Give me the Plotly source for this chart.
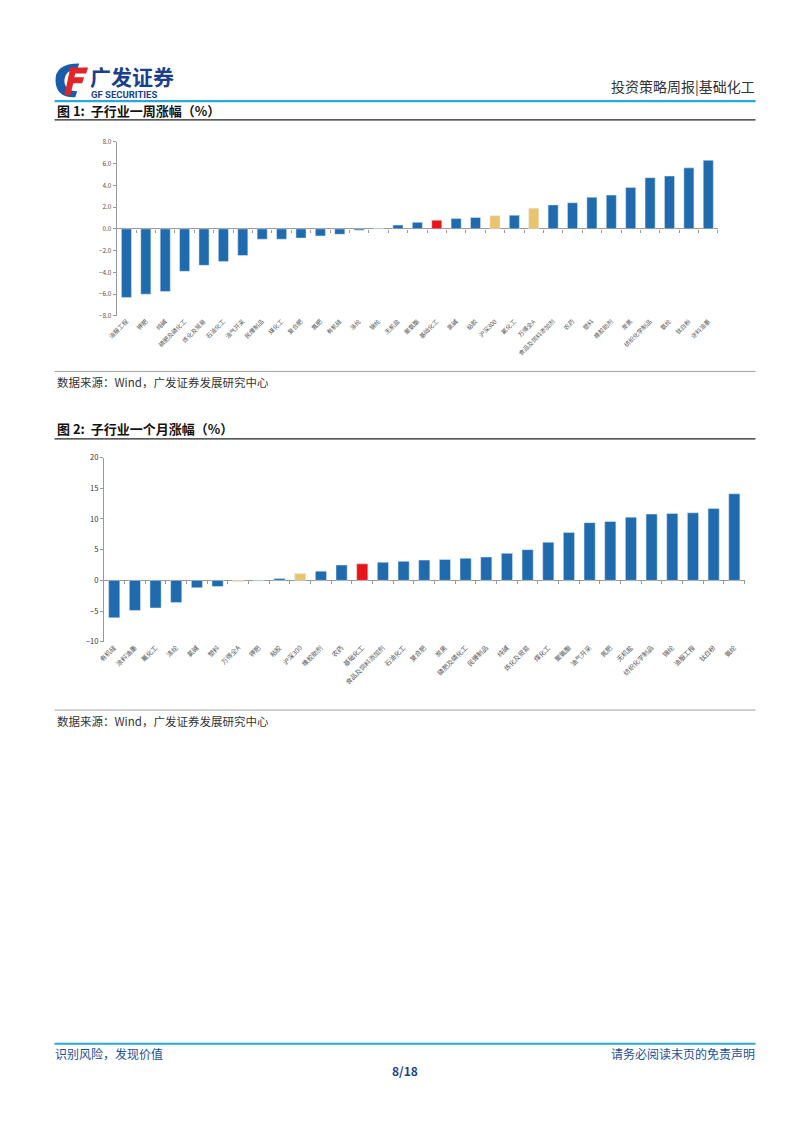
import plotly.graph_objects as go

W, H = 802, 1133
PAD = 8  # browser body margin around the figure
FW, FH = W - 2 * PAD, H - 2 * PAD
FONT = "Noto Sans CJK SC"

# 图1: 子行业一周涨幅(%)
week_names = ["油服工程", "钾肥", "纯碱", "磷肥及磷化工", "炼化及贸易", "石油化工", "油气开采",
              "民爆制品", "煤化工", "复合肥", "氮肥", "有机硅", "涤纶", "锦纶", "无机盐", "聚氨酯",
              "基础化工", "氯碱", "粘胶", "沪深300", "氟化工", "万得全A", "食品及饲料添加剂", "农药",
              "塑料", "橡胶助剂", "炭黑", "纺织化学制品", "氨纶", "钛白粉", "涂料油墨"]
week_values = [-6.3, -6.0, -5.75, -3.9, -3.35, -3.0, -2.45, -0.95, -0.95, -0.85, -0.65, -0.5,
               -0.12, 0.03, 0.35, 0.6, 0.8, 0.95, 1.05, 1.2, 1.25, 1.9, 2.2, 2.4, 2.9, 3.1,
               3.8, 4.7, 4.85, 5.6, 6.3]

# 图2: 子行业一个月涨幅(%)
month_names = ["有机硅", "涂料油墨", "氟化工", "涤纶", "氯碱", "塑料", "万得全A", "钾肥", "粘胶",
               "沪深300", "橡胶助剂", "农药", "基础化工", "食品及饲料添加剂", "石油化工", "复合肥",
               "炭黑", "磷肥及磷化工", "民爆制品", "纯碱", "炼化及贸易", "煤化工", "聚氨酯",
               "油气开采", "氮肥", "无机盐", "纺织化学制品", "锦纶", "油服工程", "钛白粉", "氨纶"]
month_values = [-6.1, -4.9, -4.5, -3.6, -1.2, -1.0, -0.2, -0.05, 0.3, 1.1, 1.5, 2.5, 2.7, 2.95,
                3.1, 3.3, 3.4, 3.6, 3.8, 4.4, 5.0, 6.2, 7.8, 9.4, 9.6, 10.3, 10.8, 10.9, 11.0,
                11.7, 14.1]

BLUE = "#1F6BAE"
RED = "#E8141B"
YELLOW = "#E8C46C"


def bar_colors(names):
    out = []
    for n in names:
        if n == "基础化工":
            out.append(RED)
        elif n in ("沪深300", "万得全A"):
            out.append(YELLOW)
        else:
            out.append(BLUE)
    return out


# page pixel -> paper coords
def px(x):
    return (x - PAD) / FW


def py(y):
    return 1 - (y - PAD) / FH


fig = go.Figure()

fig.add_trace(go.Bar(x=week_names, y=week_values, marker=dict(color=bar_colors(week_names)),
                     width=0.52, xaxis="x", yaxis="y", showlegend=False))
fig.add_trace(go.Bar(x=month_names, y=month_values, marker=dict(color=bar_colors(month_names)),
                     width=0.54, xaxis="x2", yaxis="y2", showlegend=False))

# invisible traces so the separator axes get drawn
n_cat = len(week_names)
fig.add_trace(go.Scatter(x=[-0.5, n_cat - 0.5], y=[0, 0], xaxis="x3", yaxis="y", mode="lines",
                         line=dict(width=0), hoverinfo="skip", showlegend=False))
fig.add_trace(go.Scatter(x=[-0.5, n_cat - 0.5], y=[0, 0], xaxis="x4", yaxis="y2", mode="lines",
                         line=dict(width=0), hoverinfo="skip", showlegend=False))

xfont = dict(family=FONT, size=6, color="#555")
# small category separators sitting on the zero line
sep = dict(showticklabels=False, showgrid=False, zeroline=False, showline=False,
           ticks="outside", ticklen=3, tickcolor="#999", range=[-0.5, n_cat - 0.5],
           tickmode="linear", tick0=-0.5, dtick=1, anchor="free")

fig.update_layout(
    width=FW, height=FH,
    margin=dict(l=0, r=0, t=0, b=0),
    paper_bgcolor="white", plot_bgcolor="white",
    font=dict(family=FONT),
    xaxis=dict(domain=[px(108), px(717)], anchor="y", tickangle=-45, tickfont=xfont,
               showline=False, showgrid=False, ticks=""),
    yaxis=dict(domain=[py(313), py(137)], anchor="x", range=[-8, 8], dtick=2, tickformat=".1f",
               tickfont=dict(family=FONT, size=6.5, color="#555"), showline=True,
               linecolor="#999", linewidth=1, ticks="outside", ticklen=3, tickcolor="#999",
               showgrid=False, zeroline=True, zerolinecolor="#999", zerolinewidth=1),
    xaxis3=dict(sep, overlaying="x", position=py(225)),
    xaxis2=dict(domain=[px(95), px(744)], anchor="y2", tickangle=-45,
                tickfont=dict(family=FONT, size=6.5, color="#555"),
                showline=False, showgrid=False, ticks=""),
    yaxis2=dict(domain=[py(642), py(456)], anchor="x2", range=[-10, 20], dtick=5,
                tickfont=dict(family=FONT, size=7.5, color="#333"), showline=True, linecolor="#999",
                linewidth=1, ticks="outside", ticklen=3, tickcolor="#999", showgrid=False,
                zeroline=True, zerolinecolor="#999", zerolinewidth=1),
    xaxis4=dict(sep, overlaying="x2", position=py(580)),
    bargap=0.45,
)

shapes = []


def hline(y, x0=45, x1=755, color="black", width=1.0):
    shapes.append(dict(type="line", xref="paper", yref="paper", x0=px(x0), x1=px(x1),
                       y0=py(y), y1=py(y), line=dict(color=color, width=width)))


hline(96, color="#29A9E0", width=2.2)
hline(115, color="#222", width=1.3)
hline(369, color="#888", width=0.8)
hline(437, color="#222", width=1.3)
hline(711, color="#888", width=0.8)
hline(1048, color="#29A9E0", width=2.2)

# logo mark (blue G with red F)
shapes.append(dict(type="path", xref="paper", yref="paper",
                   path=(f"M {px(70)},{py(58)} Q {px(45)},{py(58)} {px(46)},{py(76)} "
                         f"Q {px(47)},{py(93)} {px(66)},{py(92)} L {px(68)},{py(86)} "
                         f"Q {px(55)},{py(86)} {px(55)},{py(75)} Q {px(56)},{py(64)} {px(68)},{py(64)} Z"),
                   fillcolor="#1A5BAA", line=dict(width=0)))
shapes.append(dict(type="path", xref="paper", yref="paper",
                   path=(f"M {px(61)},{py(62)} L {px(79)},{py(62)} L {px(77)},{py(68)} "
                         f"L {px(66)},{py(68)} L {px(65)},{py(72)} L {px(75)},{py(72)} "
                         f"L {px(73)},{py(78)} L {px(64)},{py(78)} L {px(61)},{py(90)} "
                         f"L {px(55)},{py(90)} Z"),
                   fillcolor="#E0262B", line=dict(width=0)))

annotations = []


def text(x, y, s, size=11, color="#222", xanchor="left", bold=False, family=FONT):
    if bold:
        s = f"<b>{s}</b>"
    annotations.append(dict(x=px(x), y=py(y), xref="paper", yref="paper", text=s,
                            showarrow=False, xanchor=xanchor, yanchor="middle", borderpad=0,
                            font=dict(family=family, size=size, color=color)))


text(80, 71, "广发证券", size=21, color="#1B3F8F", bold=True)
text(81, 89, "GF SECURITIES", size=9.5, color="#1B3F8F", bold=True, family="Roboto")
text(756, 81, "投资策略周报|基础化工", size=14, color="#333", xanchor="right")
text(46, 105, "图 1:  子行业一周涨幅（%）", size=13, color="#111", bold=True)
text(46, 380, "数据来源：Wind，广发证券发展研究中心", size=11.5, color="#333")
text(46, 427, "图 2:  子行业一个月涨幅（%）", size=13, color="#111", bold=True)
text(46, 722, "数据来源：Wind，广发证券发展研究中心", size=11.5, color="#333")
text(44, 1058, "识别风险，发现价值", size=12, color="#1B4F9A")
text(756, 1058, "请务必阅读末页的免责声明", size=12, color="#1B4F9A", xanchor="right")
text(400, 1075, "8/18", size=12, color="#1B3F8F", xanchor="center", bold=True)

fig.update_layout(shapes=shapes, annotations=annotations)

fig.write_html("out.html")
